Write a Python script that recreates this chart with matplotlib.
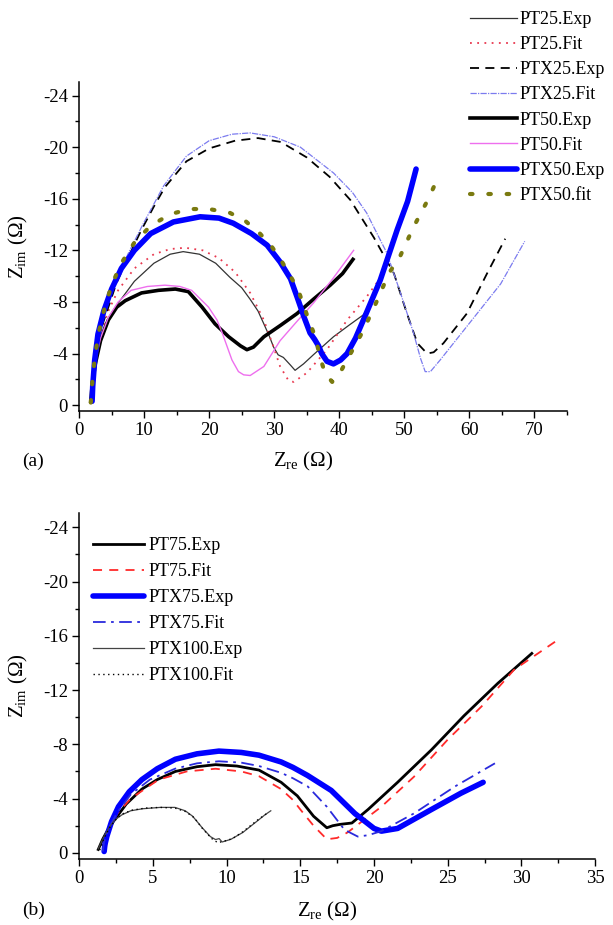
import numpy as np
import matplotlib
matplotlib.use('Agg')
import matplotlib.pyplot as plt
from matplotlib.ticker import MultipleLocator

plt.rcParams['font.family'] = ['Liberation Serif', 'DejaVu Serif']
plt.rcParams['mathtext.fontset'] = 'custom'
plt.rcParams['mathtext.rm'] = 'Liberation Serif'
plt.rcParams['mathtext.it'] = 'Liberation Serif:italic'
plt.rcParams['axes.unicode_minus'] = False

# ---------------- datos panel (a): Zre, Zim (Ohm) ----------------
pt25_exp_x = [1.8, 1.9, 2.3, 3.0, 4.0, 6.0, 8.5, 11.5, 14.0, 16.0, 18.5, 21.0, 23.2, 25.0, 26.3,
              27.5, 28.4, 29.2, 29.9, 30.6, 31.4, 32.5, 33.2, 34.5, 36.0, 39.1, 41.5, 43.7, 44.8]
pt25_exp_y = [-0.3, -1.5, -3.2, -4.9, -6.3, -7.9, -9.6, -11.0, -11.7, -11.9, -11.7, -11.0, -9.9, -9.1, -8.2,
              -7.3, -6.3, -5.4, -4.5, -3.9, -3.7, -3.1, -2.7, -3.2, -3.9, -5.3, -6.2, -7.0, -7.8]

pt25_fit_x = [1.8, 2.0, 2.5, 3.3, 4.5, 6.0, 8.5, 11.5, 14.0, 16.3, 19.0, 21.5, 24.0, 26.3, 28.4,
              29.9, 30.9, 32.2, 33.0, 35.0, 38.1, 41.2, 44.2, 46.8]
pt25_fit_y = [-0.2, -1.8, -3.7, -5.6, -7.3, -8.9, -10.6, -11.7, -12.1, -12.2, -12.0, -11.4, -10.3, -8.7, -6.6,
              -4.5, -3.0, -1.9, -1.8, -2.5, -4.3, -6.6, -8.4, -10.2]

ptx25_exp_x = [1.8, 2.0, 2.5, 3.3, 4.5, 5.7, 7.1, 9.6, 11.5, 13.2, 16.5, 20.0, 24.0, 27.5, 31.0, 35.0,
               38.5, 41.7, 45.3, 48.4, 50.4, 52.0, 53.5, 54.5, 56.0, 59.6, 62.7, 65.5]
ptx25_exp_y = [-0.3, -1.5, -4.0, -5.8, -7.6, -9.4, -11.0, -13.6, -15.4, -16.9, -18.9, -19.9, -20.5, -20.7, -20.4, -19.2,
               -17.7, -15.9, -13.0, -10.2, -7.1, -4.8, -4.0, -4.1, -4.8, -7.1, -10.2, -12.9]

ptx25_fit_x = [1.8, 2.1, 2.6, 3.5, 4.7, 6.0, 7.5, 9.8, 13.0, 16.5, 20.0, 23.5, 26.3, 30.0, 34.0,
               39.1, 42.0, 44.2, 47.3, 49.4, 51.4, 52.5, 53.2, 54.0, 55.5, 59.6, 64.8, 68.5]
ptx25_fit_y = [-0.2, -2.0, -4.2, -6.3, -8.3, -10.0, -11.7, -14.0, -17.0, -19.3, -20.5, -21.0, -21.1, -20.8, -20.0,
               -18.0, -16.5, -14.9, -11.8, -8.7, -5.6, -3.6, -2.6, -2.6, -3.5, -6.1, -9.4, -12.7]

pt50_exp_x = [1.8, 2.0, 2.5, 3.3, 4.5, 5.8, 7.1, 9.6, 12.2, 14.8, 16.8, 18.9, 20.9, 23.0, 24.8,
              25.8, 26.8, 28.4, 31.0, 33.5, 36.0, 38.6, 40.5, 42.1]
pt50_exp_y = [-0.3, -1.5, -3.2, -5.0, -6.6, -7.6, -8.1, -8.7, -8.9, -9.0, -8.8, -7.6, -6.3, -5.3, -4.6,
              -4.3, -4.5, -5.3, -6.2, -7.1, -8.2, -9.3, -10.2, -11.3]

pt50_fit_x = [1.8, 2.0, 2.5, 3.3, 4.5, 6.0, 8.0, 10.5, 13.2, 15.5, 17.3, 19.9, 21.2, 22.0, 23.5,
              24.5, 25.3, 26.3, 28.4, 30.9, 33.5, 36.0, 39.0, 42.2]
pt50_fit_y = [-0.2, -1.6, -3.4, -5.2, -6.8, -8.0, -8.9, -9.2, -9.3, -9.2, -8.9, -7.6, -6.6, -5.6, -3.5,
              -2.6, -2.35, -2.3, -3.0, -5.0, -6.5, -7.9, -9.8, -12.0]

ptx50_exp_x = [2.0, 2.1, 2.4, 2.9, 3.8, 5.0, 6.5, 8.5, 11.0, 14.5, 18.6, 21.5, 23.7, 26.5, 28.9,
               30.9, 32.5, 33.5, 34.6, 35.5, 36.2, 36.8, 37.3, 38.1, 39.1, 40.2, 41.2, 42.5, 43.7,
               46.3, 48.9, 50.5, 51.8]
ptx50_exp_y = [-0.3, -1.5, -3.5, -5.5, -7.3, -9.0, -10.6, -12.0, -13.3, -14.2, -14.6, -14.5, -14.1, -13.3, -12.4,
               -11.1, -9.8, -8.4, -6.8, -5.6, -5.1, -4.6, -4.0, -3.4, -3.2, -3.5, -4.0, -5.2, -6.6,
               -9.7, -13.6, -15.8, -18.3]

ptx50_fit_x = [1.8, 2.0, 2.4, 3.0, 3.9, 5.0, 6.5, 8.5, 11.0, 14.0, 17.0, 20.0, 23.2, 25.5, 27.8,
               29.6, 31.2, 32.6, 33.7, 35.3, 36.3, 37.1, 37.8, 38.9, 40.2, 41.4, 43.7, 45.8, 47.6,
               49.4, 51.4, 53.7, 55.5]
ptx50_fit_y = [-0.2, -1.6, -3.6, -5.6, -7.5, -9.3, -11.0, -12.6, -13.9, -14.8, -15.2, -15.2, -14.9, -14.3, -13.3,
               -12.3, -11.1, -9.9, -8.9, -6.6, -5.3, -3.6, -2.5, -1.8, -2.6, -3.7, -5.8, -8.1, -10.2,
               -11.6, -13.8, -16.0, -18.0]

# ---------------- datos panel (b) ----------------
pt75_exp_x = [1.3, 1.6, 2.0, 2.45, 3.2, 4.26, 5.3, 6.53, 8.0, 9.25, 10.7, 12.2, 13.7, 14.8, 15.9,
              16.8, 17.2, 17.7, 18.5, 19.6, 21.6, 23.9, 26.1, 28.4, 30.7]
pt75_exp_y = [-0.25, -1.0, -1.8, -2.5, -3.6, -4.7, -5.4, -6.0, -6.35, -6.5, -6.4, -6.1, -5.2, -4.2, -2.7,
              -1.85, -2.0, -2.1, -2.2, -3.2, -5.2, -7.6, -10.1, -12.5, -14.7]

pt75_fit_x = [1.8, 2.0, 2.6, 3.5, 5.4, 7.3, 9.25, 11.0, 12.2, 13.7, 14.5, 15.0, 15.9, 16.8, 17.5,
              18.2, 20.5, 22.7, 25.0, 27.3, 29.5, 32.6]
pt75_fit_y = [-0.2, -1.7, -2.9, -4.0, -5.4, -6.0, -6.2, -6.0, -5.65, -4.7, -3.9, -3.2, -2.0, -1.0, -1.1,
              -1.5, -3.4, -5.6, -8.35, -10.8, -13.5, -15.8]

ptx75_exp_x = [1.7, 1.75, 1.88, 2.2, 2.67, 3.4, 4.26, 5.3, 6.53, 8.0, 9.48, 11.0, 12.2, 13.7, 14.5,
               15.5, 17.1, 18.7, 20.0, 20.5, 21.6, 23.9, 25.9, 27.4]
ptx75_exp_y = [-0.1, -0.6, -1.2, -2.3, -3.4, -4.5, -5.4, -6.2, -6.9, -7.3, -7.5, -7.4, -7.2, -6.7, -6.3,
               -5.7, -4.6, -2.9, -1.8, -1.6, -1.8, -3.2, -4.4, -5.2]

ptx75_fit_x = [1.6, 1.7, 2.0, 2.6, 3.5, 4.8, 6.5, 8.0, 9.48, 11.0, 12.2, 13.7, 14.5, 15.5, 16.8,
               18.0, 18.9, 19.6, 20.5, 22.7, 25.5, 28.2]
ptx75_fit_y = [-0.1, -0.8, -1.8, -3.0, -4.3, -5.4, -6.2, -6.6, -6.75, -6.65, -6.4, -5.9, -5.5, -4.9, -3.4,
               -1.7, -1.2, -1.3, -1.6, -2.9, -4.9, -6.6]

ptx100_exp_x = [1.3, 1.6, 2.0, 2.4, 2.9, 3.5, 4.3, 5.5, 6.5, 7.2, 7.7, 8.35, 8.9, 9.25, 9.5,
                9.7, 10.3, 11.1, 12.2, 12.6, 13.0]
ptx100_exp_y = [-0.3, -1.0, -1.8, -2.4, -2.8, -3.1, -3.25, -3.35, -3.35, -3.1, -2.7, -1.85, -1.2, -0.98, -1.05,
                -0.8, -1.0, -1.5, -2.45, -2.8, -3.1]

ptx100_fit_x = [1.4, 1.7, 2.1, 2.6, 3.0, 3.6, 4.5, 5.5, 6.5, 7.2, 7.8, 8.4, 9.0, 9.4, 9.8,
                10.4, 11.1, 12.2, 12.8]
ptx100_fit_y = [-0.2, -1.1, -1.9, -2.6, -2.9, -3.15, -3.3, -3.35, -3.3, -3.05, -2.6, -1.75, -1.05, -0.75, -0.85,
                -1.05, -1.55, -2.5, -2.95]


fig = plt.figure(figsize=(6.13, 9.25), dpi=100)

def formato(ax, xmax, xmaj, xmin):
    ax.set_xlim(0, xmax)
    ax.set_ylim(0.45, -25.05)           # eje invertido: -Zim hacia arriba
    ax.xaxis.set_major_locator(MultipleLocator(xmaj))
    ax.xaxis.set_minor_locator(MultipleLocator(xmin))
    ax.set_yticks([0, -4, -8, -12, -16, -20, -24])
    ax.yaxis.set_minor_locator(MultipleLocator(2))
    for s in ['top', 'right']:
        ax.spines[s].set_visible(False)
    for s in ['left', 'bottom']:
        ax.spines[s].set_linewidth(1.1)
    ax.tick_params(which='major', length=5, width=1, labelsize=13.5, pad=3)
    ax.tick_params(which='minor', length=3, width=1)
    ax.set_xlabel(r'Z$_{\rm re}$ (Ω)', fontsize=15)
    ax.set_ylabel(r'Z$_{\rm im}$ (Ω)', fontsize=15)

######################## panel (a)
ax1 = fig.add_axes([0.129, 0.5557, 0.796, 0.3557])
ax1.plot(pt25_exp_x, pt25_exp_y, color='#333333', lw=0.9, label='PT25.Exp')
ax1.plot(pt25_fit_x, pt25_fit_y, color='#e8384f', lw=1.3, ls=(0, (1, 3)), label='PT25.Fit')
ax1.plot(ptx25_exp_x, ptx25_exp_y, color='black', lw=1.3, ls=(0, (5, 3.5)), label='PTX25.Exp')
ax1.plot(ptx25_fit_x, ptx25_fit_y, color='#7b7bef', lw=0.9, ls=(0, (5, 1, 1, 1)), label='PTX25.Fit')
ax1.plot(pt50_exp_x, pt50_exp_y, color='black', lw=2.6, label='PT50.Exp')
ax1.plot(pt50_fit_x, pt50_fit_y, color='#ee6fee', lw=1.0, label='PT50.Fit')
ax1.plot(ptx50_exp_x, ptx50_exp_y, color='#0000ff', lw=4, solid_capstyle='round', label='PTX50.Exp')
ax1.plot(ptx50_fit_x, ptx50_fit_y, color='#7a7a10', lw=3, ls=(0, (0.6, 3.8)), dash_capstyle='round',
         label='PTX50.fit')
formato(ax1, 75, 10, 5)
ax1.xaxis.set_label_coords(0.46, -0.118)
ax1.yaxis.set_label_coords(-0.100, 0.5)
fig.legend(*ax1.get_legend_handles_labels(), loc='upper left', bbox_to_anchor=(0.767, 0.988),
           frameon=False, fontsize=13, handlelength=2.6, handletextpad=0.15,
           labelspacing=0.45, borderpad=0, borderaxespad=0)
fig.text(0.036, 1 - 461 / 925, '(a)', fontsize=14, va='center', ha='left')

######################## panel (b)
ax2 = fig.add_axes([0.129, 0.0714, 0.842, 0.374])
ax2.plot(pt75_exp_x, pt75_exp_y, color='black', lw=2, label='PT75.Exp')
ax2.plot(pt75_fit_x, pt75_fit_y, color='#ff2a2a', lw=1.3, ls=(0, (5, 4)), label='PT75.Fit')
ax2.plot(ptx75_exp_x, ptx75_exp_y, color='#0000ff', lw=4, solid_capstyle='round', label='PTX75.Exp')
ax2.plot(ptx75_fit_x, ptx75_fit_y, color='#2a2adc', lw=1.3, ls=(0, (7, 3, 1.5, 3)), label='PTX75.Fit')
ax2.plot(ptx100_exp_x, ptx100_exp_y, color='#444444', lw=0.9, label='PTX100.Exp')
ax2.plot(ptx100_fit_x, ptx100_fit_y, color='black', lw=1.0, ls=(0, (1, 2.5)), label='PTX100.Fit')
formato(ax2, 35, 5, 2.5)
ax2.xaxis.set_label_coords(0.48, -0.118)
ax2.yaxis.set_label_coords(-0.095, 0.5)
ax2.legend(loc='upper left', bbox_to_anchor=(0.152, 1 - 537 / 925), bbox_transform=fig.transFigure,
           frameon=False, fontsize=13, handlelength=2.8, handletextpad=0.25,
           labelspacing=0.5, borderpad=0, borderaxespad=0)
fig.text(0.036, 1 - 910 / 925, '(b)', fontsize=14, va='center', ha='left')

plt.savefig('out.png', dpi=100)
